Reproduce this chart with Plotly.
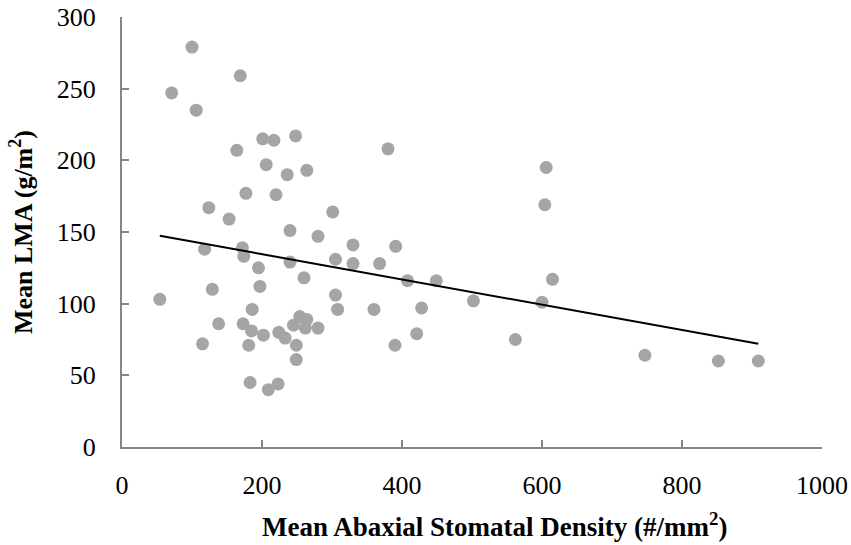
import numpy as np
import plotly.graph_objects as go

# Mean abaxial stomatal density (#/mm2)
density = [100, 169, 71, 106, 201, 217, 248, 164, 206, 236, 264, 177, 220, 124, 153,
           301, 240, 280, 118, 172, 174, 195, 240, 260, 305, 330, 129, 197, 54, 305,
           308, 186, 138, 173, 185, 202, 224, 233, 245, 254, 264, 262, 280, 249, 115,
           181, 249, 183, 223, 209, 380, 606, 604, 330, 391, 368, 408, 449, 615, 360,
           428, 502, 600, 421, 390, 562, 747, 852, 909]
# Mean LMA (g/m2)
lma = [279, 259, 247, 235, 215, 214, 217, 207, 197, 190, 193, 177, 176, 167, 159,
       164, 151, 147, 138, 139, 133, 125, 129, 118, 131, 141, 110, 112, 103, 106,
       96, 96, 86, 86, 81, 78, 80, 76, 85, 91, 89, 83, 83, 71, 72,
       71, 61, 45, 44, 40, 208, 195, 169, 128, 140, 128, 116, 116, 117, 96,
       97, 102, 101, 79, 71, 75, 64, 60, 60]

x_ticks = [0, 200, 400, 600, 800, 1000]
y_ticks = [0, 50, 100, 150, 200, 250, 300]

xa = np.array(density, dtype=float)
ya = np.array(lma, dtype=float)
slope, intercept = np.polyfit(xa, ya, 1)
trend_x = np.array([xa.min(), xa.max()])
trend_y = slope * trend_x + intercept

FONT = "Liberation Serif"
AXIS_COLOR = "#868686"

fig = go.Figure()
fig.add_trace(go.Scatter(
    x=density, y=lma, mode="markers",
    marker=dict(size=13, color="#A5A5A5", line=dict(width=0)),
    showlegend=False, hoverinfo="x+y",
))
fig.add_trace(go.Scatter(
    x=trend_x, y=trend_y, mode="lines",
    line=dict(color="black", width=2),
    showlegend=False, hoverinfo="skip",
))

fig.update_layout(
    width=851, height=545,
    margin=dict(l=122, r=29, t=17, b=98),
    plot_bgcolor="white", paper_bgcolor="white",
    font=dict(family=FONT, size=26, color="black"),
    annotations=[dict(
        text="<b>Mean Abaxial Stomatal Density (#/mm<sup>2</sup>)</b>",
        xref="paper", yref="paper", x=0.5324, y=-0.182,
        xanchor="center", yanchor="middle", showarrow=False,
        font=dict(family=FONT, size=27, color="black"),
    )],
)
fig.update_xaxes(
    range=[0, 1000], tickvals=x_ticks, ticktext=[str(v) for v in x_ticks],
    showgrid=False, zeroline=False, automargin=False,
    showline=True, linecolor=AXIS_COLOR, linewidth=2,
    ticks="inside", ticklen=7, tickwidth=2, tickcolor=AXIS_COLOR,
    ticklabelstandoff=14,
    tickfont=dict(family=FONT, size=26, color="black"),
)
fig.update_yaxes(
    range=[0, 300], tickvals=y_ticks, ticktext=[str(v) for v in y_ticks],
    showgrid=False, zeroline=False, automargin=False,
    showline=True, linecolor=AXIS_COLOR, linewidth=2,
    ticks="inside", ticklen=7, tickwidth=2, tickcolor=AXIS_COLOR,
    ticklabelstandoff=19,
    tickfont=dict(family=FONT, size=26, color="black"),
    title=dict(text="<b>Mean LMA (g/m<sup>2</sup>)</b>",
               font=dict(family=FONT, size=26, color="black"), standoff=17),
)

fig.write_html(
    "out.html",
    config={"displayModeBar": False},
    post_script="document.body.style.margin='0';document.body.style.overflow='hidden';",
)
